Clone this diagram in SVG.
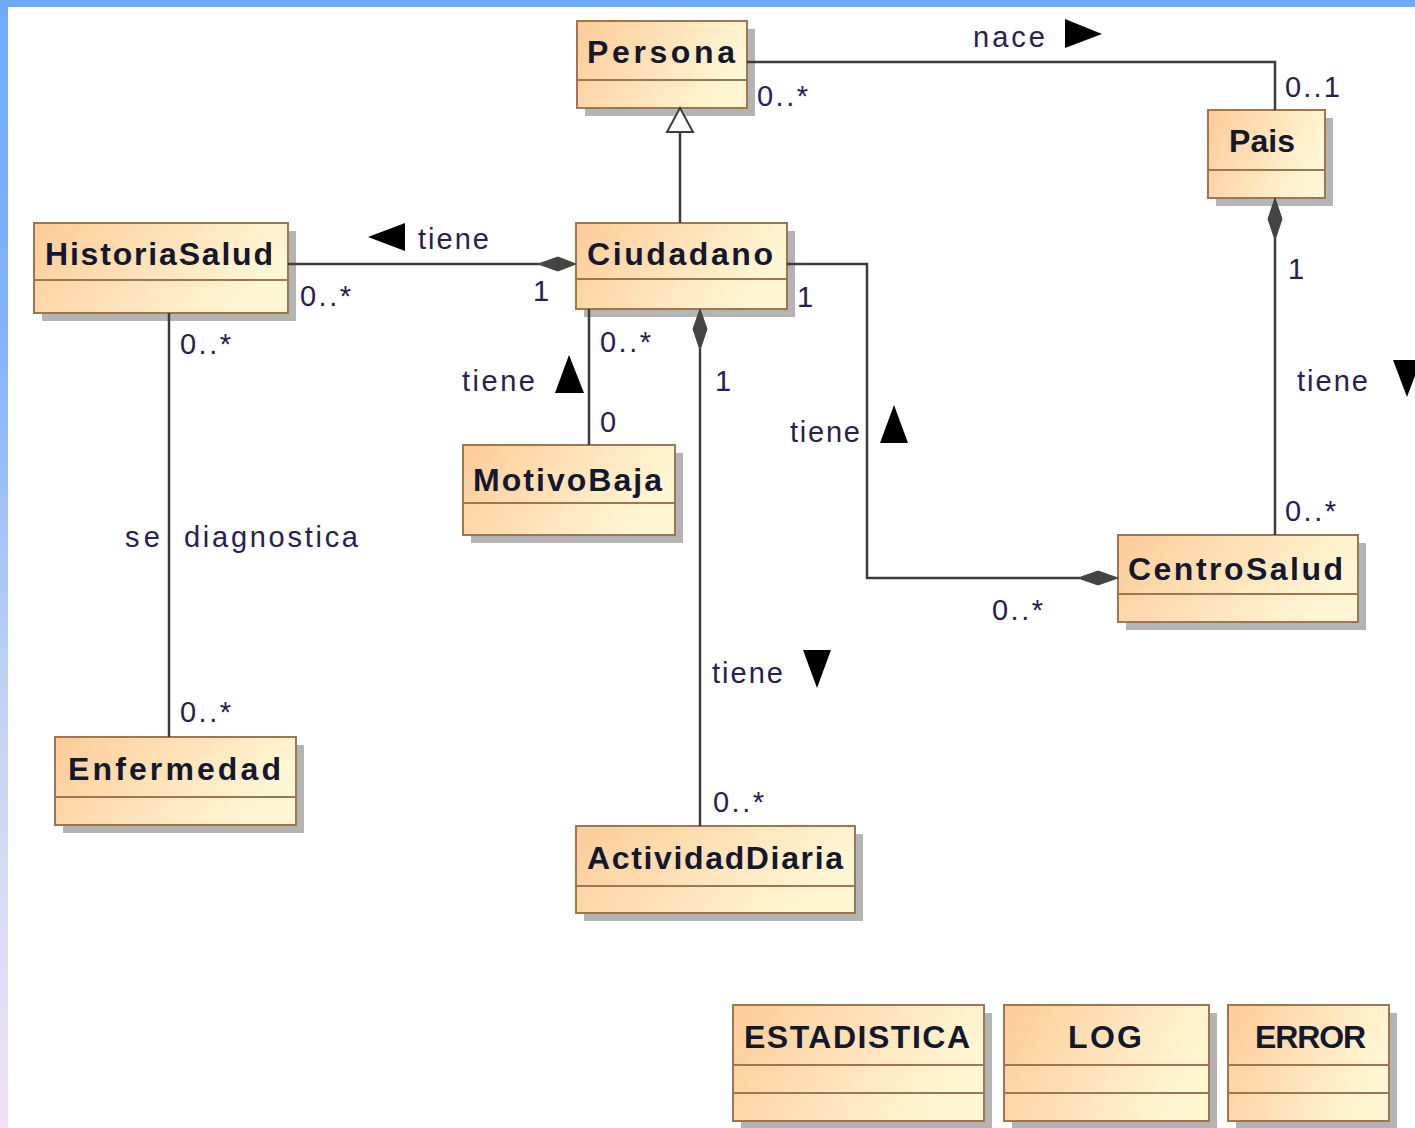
<svg xmlns="http://www.w3.org/2000/svg" width="1415" height="1128" viewBox="0 0 1415 1128">
<style>
.box{fill:url(#cg);stroke:#9c7752;stroke-width:2}
.sh{fill:#b4b4b4}
.div{stroke:#9c7752;stroke-width:2}
.nm{font-family:"Liberation Sans",Arial,sans-serif;font-weight:bold;font-size:32px;fill:#14182e}
.lb{font-family:"Liberation Sans",Arial,sans-serif;font-size:29px;fill:#2a2050}
.mu{font-family:"Liberation Sans",Arial,sans-serif;font-size:29px;fill:#2a2050}
.ln{fill:none;stroke:#3c3c3c;stroke-width:2.5}
.dm{fill:#444;stroke:#444;stroke-width:1}
.tr{fill:#000}
</style>
<defs>
<linearGradient id="cg" x1="0" y1="0" x2="1" y2="0.3">
<stop offset="0" stop-color="#fdcb98"/>
<stop offset="1" stop-color="#fff6d4"/>
</linearGradient>
<linearGradient id="lg" x1="0" y1="0" x2="0" y2="1">
<stop offset="0" stop-color="#6fa9ff"/>
<stop offset="0.3" stop-color="#84b3fb"/>
<stop offset="0.65" stop-color="#c6d5f3"/>
<stop offset="1" stop-color="#efe3f6"/>
</linearGradient>
</defs>
<rect x="0" y="0" width="1415" height="1128" fill="#fff"/>
<rect x="0" y="0" width="8" height="1128" fill="url(#lg)"/>
<rect x="0" y="0" width="1415" height="7" fill="#6fa9ff"/>

<g id="Persona">
<rect class="sh" x="585" y="29" width="170" height="87"/>
<rect class="box" x="577" y="21" width="170" height="87"/>
<line class="div" x1="577" y1="80" x2="747" y2="80"/>
<text class="nm" x="587" y="63" textLength="148" lengthAdjust="spacing">Persona</text>
</g>

<g id="Pais">
<rect class="sh" x="1216" y="118" width="117" height="88"/>
<rect class="box" x="1208" y="110" width="117" height="88"/>
<line class="div" x1="1208" y1="170" x2="1325" y2="170"/>
<text class="nm" x="1229" y="152" textLength="66" lengthAdjust="spacing">Pais</text>
</g>

<g id="HistoriaSalud">
<rect class="sh" x="42" y="231" width="254" height="90"/>
<rect class="box" x="34" y="223" width="254" height="90"/>
<line class="div" x1="34" y1="280" x2="288" y2="280"/>
<text class="nm" x="45" y="265" textLength="228" lengthAdjust="spacing">HistoriaSalud</text>
</g>

<g id="Ciudadano">
<rect class="sh" x="584" y="231" width="211" height="86"/>
<rect class="box" x="576" y="223" width="211" height="86"/>
<line class="div" x1="576" y1="279" x2="787" y2="279"/>
<text class="nm" x="587" y="265" textLength="186" lengthAdjust="spacing">Ciudadano</text>
</g>

<g id="MotivoBaja">
<rect class="sh" x="471" y="453" width="212" height="90"/>
<rect class="box" x="463" y="445" width="212" height="90"/>
<line class="div" x1="463" y1="503" x2="675" y2="503"/>
<text class="nm" x="473" y="491" textLength="189" lengthAdjust="spacing">MotivoBaja</text>
</g>

<g id="CentroSalud">
<rect class="sh" x="1126" y="543" width="240" height="87"/>
<rect class="box" x="1118" y="535" width="240" height="87"/>
<line class="div" x1="1118" y1="594" x2="1358" y2="594"/>
<text class="nm" x="1128" y="580" textLength="215" lengthAdjust="spacing">CentroSalud</text>
</g>

<g id="Enfermedad">
<rect class="sh" x="63" y="745" width="241" height="88"/>
<rect class="box" x="55" y="737" width="241" height="88"/>
<line class="div" x1="55" y1="797" x2="296" y2="797"/>
<text class="nm" x="68" y="780" textLength="213" lengthAdjust="spacing">Enfermedad</text>
</g>

<g id="ActividadDiaria">
<rect class="sh" x="584" y="834" width="279" height="87"/>
<rect class="box" x="576" y="826" width="279" height="87"/>
<line class="div" x1="576" y1="886" x2="855" y2="886"/>
<text class="nm" x="587" y="869" textLength="256" lengthAdjust="spacing">ActividadDiaria</text>
</g>

<g id="ESTADISTICA">
<rect class="sh" x="741" y="1013" width="251" height="116"/>
<rect class="box" x="733" y="1005" width="251" height="116"/>
<line class="div" x1="733" y1="1065" x2="984" y2="1065"/>
<line class="div" x1="733" y1="1093" x2="984" y2="1093"/>
<text class="nm" x="744" y="1048" textLength="226" lengthAdjust="spacing">ESTADISTICA</text>
</g>

<g id="LOG">
<rect class="sh" x="1012" y="1013" width="205" height="116"/>
<rect class="box" x="1004" y="1005" width="205" height="116"/>
<line class="div" x1="1004" y1="1065" x2="1209" y2="1065"/>
<line class="div" x1="1004" y1="1093" x2="1209" y2="1093"/>
<text class="nm" x="1068" y="1048" textLength="74" lengthAdjust="spacing">LOG</text>
</g>

<g id="ERROR">
<rect class="sh" x="1236" y="1013" width="161" height="116"/>
<rect class="box" x="1228" y="1005" width="161" height="116"/>
<line class="div" x1="1228" y1="1065" x2="1389" y2="1065"/>
<line class="div" x1="1228" y1="1093" x2="1389" y2="1093"/>
<text class="nm" x="1255" y="1048" textLength="111" lengthAdjust="spacing">ERROR</text>
</g>

<g id="connectors">
<!-- Persona - Pais -->
<polyline class="ln" points="747,62 1275,62 1275,110"/>
<!-- Generalization -->
<line class="ln" x1="680" y1="132" x2="680" y2="223"/>
<polygon points="680,108 667,132 693,132" fill="#fff" stroke="#3c3c3c" stroke-width="2"/>
<!-- HistoriaSalud - Ciudadano -->
<line class="ln" x1="288" y1="264" x2="540" y2="264"/>
<polygon class="dm" points="576,264 558,257 538,264 558,271"/>
<!-- HistoriaSalud - Enfermedad -->
<line class="ln" x1="169" y1="313" x2="169" y2="737"/>
<!-- Ciudadano - MotivoBaja -->
<line class="ln" x1="589" y1="309" x2="589" y2="445"/>
<!-- Ciudadano - ActividadDiaria -->
<line class="ln" x1="700" y1="348" x2="700" y2="826"/>
<polygon class="dm" points="700,309 707,329 700,350 693,329"/>
<!-- Ciudadano - CentroSalud -->
<polyline class="ln" points="787,264 867,264 867,578 1080,578"/>
<polygon class="dm" points="1118,578 1098,571 1078,578 1098,585"/>
<!-- Pais - CentroSalud -->
<line class="ln" x1="1275" y1="238" x2="1275" y2="535"/>
<polygon class="dm" points="1275,198 1282,219 1275,240 1268,219"/>

<!-- labels -->
<text class="lb" x="973" y="47" textLength="72" lengthAdjust="spacing">nace</text>
<polygon class="tr" points="1065,19 1102,34 1065,48"/>
<text class="mu" x="757" y="106" textLength="51" lengthAdjust="spacing">0..*</text>
<text class="mu" x="1285" y="97" textLength="55" lengthAdjust="spacing">0..1</text>

<polygon class="tr" points="368,237 405,223 405,251"/>
<text class="lb" x="418" y="249" textLength="71" lengthAdjust="spacing">tiene</text>
<text class="mu" x="300" y="306" textLength="51" lengthAdjust="spacing">0..*</text>
<text class="mu" x="533" y="301">1</text>

<text class="mu" x="180" y="354" textLength="51" lengthAdjust="spacing">0..*</text>
<text class="lb" x="125" y="547" textLength="35" lengthAdjust="spacing">se</text>
<text class="lb" x="184" y="547" textLength="174" lengthAdjust="spacing">diagnostica</text>
<text class="mu" x="180" y="722" textLength="51" lengthAdjust="spacing">0..*</text>

<text class="mu" x="600" y="352" textLength="51" lengthAdjust="spacing">0..*</text>
<text class="lb" x="462" y="391" textLength="73" lengthAdjust="spacing">tiene</text>
<polygon class="tr" points="569,355 584,393 555,393"/>
<text class="mu" x="600" y="432">0</text>

<text class="mu" x="715" y="391">1</text>
<text class="lb" x="712" y="683" textLength="71" lengthAdjust="spacing">tiene</text>
<polygon class="tr" points="803,650 831,650 817,688"/>
<text class="mu" x="713" y="812" textLength="51" lengthAdjust="spacing">0..*</text>

<text class="mu" x="797" y="307">1</text>
<text class="lb" x="790" y="442" textLength="70" lengthAdjust="spacing">tiene</text>
<polygon class="tr" points="894,405 908,443 880,443"/>
<text class="mu" x="992" y="620" textLength="51" lengthAdjust="spacing">0..*</text>

<text class="mu" x="1288" y="279">1</text>
<text class="lb" x="1297" y="391" textLength="71" lengthAdjust="spacing">tiene</text>
<polygon class="tr" points="1393,360 1421,360 1407,397"/>
<text class="mu" x="1285" y="521" textLength="51" lengthAdjust="spacing">0..*</text>
</g>
</svg>
